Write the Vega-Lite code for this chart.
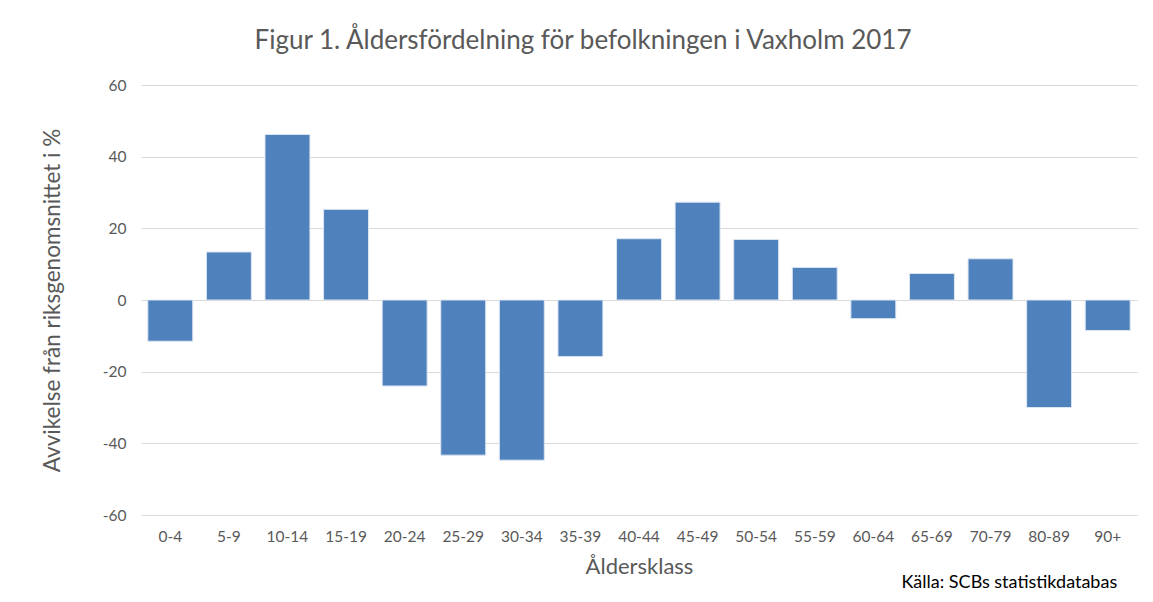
{
  "$schema": "https://vega.github.io/schema/vega-lite/v6.json",
  "autosize": "none",
  "width": 996,
  "height": 430,
  "padding": {"left": 141, "top": 85, "right": 16, "bottom": 87},
  "background": "white",
  "title": {
    "text": "Figur 1. Åldersfördelning för befolkningen i Vaxholm 2017",
    "font": "Lato",
    "fontSize": 26,
    "fontWeight": "normal",
    "color": "#595959",
    "anchor": "middle",
    "dx": -56,
    "offset": 24
  },
  "config": {
    "view": {"stroke": null},
    "font": "Lato"
  },
  "layer": [
    {
      "data": {
        "values": [
          {"klass": "0-4", "avvikelse": -11.5},
          {"klass": "5-9", "avvikelse": 13.4},
          {"klass": "10-14", "avvikelse": 46.2},
          {"klass": "15-19", "avvikelse": 25.3},
          {"klass": "20-24", "avvikelse": -24.0},
          {"klass": "25-29", "avvikelse": -43.3},
          {"klass": "30-34", "avvikelse": -44.7},
          {"klass": "35-39", "avvikelse": -15.8},
          {"klass": "40-44", "avvikelse": 17.1},
          {"klass": "45-49", "avvikelse": 27.3},
          {"klass": "50-54", "avvikelse": 16.9},
          {"klass": "55-59", "avvikelse": 9.1},
          {"klass": "60-64", "avvikelse": -5.2},
          {"klass": "65-69", "avvikelse": 7.4},
          {"klass": "70-79", "avvikelse": 11.5},
          {"klass": "80-89", "avvikelse": -30.0},
          {"klass": "90+", "avvikelse": -8.5}
        ]
      },
      "mark": {"type": "bar", "color": "#4f81bd", "stroke": "#dce6f2", "strokeWidth": 1},
      "encoding": {
        "x": {
          "field": "klass",
          "type": "nominal",
          "sort": null,
          "scale": {"paddingInner": 0.233, "paddingOuter": 0.1165},
          "axis": {
            "title": "Åldersklass",
            "titleFont": "Lato",
            "titleFontSize": 22,
            "titleFontWeight": "normal",
            "titleColor": "#595959",
            "titlePadding": 12,
            "labelFont": "Lato",
            "labelFontSize": 15.5,
            "labelColor": "#595959",
            "labelAngle": 0,
            "labelPadding": 14,
            "ticks": false,
            "domain": false
          }
        },
        "y": {
          "field": "avvikelse",
          "type": "quantitative",
          "scale": {"domain": [-60, 60], "nice": false},
          "axis": {
            "title": "Avvikelse från riksgenomsnittet i %",
            "titleFont": "Lato",
            "titleFontSize": 22.5,
            "titleFontWeight": "normal",
            "titleColor": "#595959",
            "titlePadding": 38,
            "values": [-60, -40, -20, 0, 20, 40, 60],
            "labelExpr": "replace(datum.label, '−', '-')",
            "labelFont": "Lato",
            "labelFontSize": 15.5,
            "labelColor": "#595959",
            "labelPadding": 15,
            "ticks": false,
            "domain": false,
            "gridColor": "#d9d9d9",
            "gridWidth": 1
          }
        }
      }
    },
    {
      "data": {"values": [{"note": "Källa: SCBs statistikdatabas"}]},
      "mark": {
        "type": "text",
        "align": "right",
        "baseline": "middle",
        "font": "Lato",
        "fontSize": 18,
        "color": "#000000",
        "dx": -13,
        "dy": 68
      },
      "encoding": {
        "x": {"datum": "90+", "type": "nominal", "bandPosition": 1},
        "y": {"datum": -60, "type": "quantitative"},
        "text": {"field": "note"}
      }
    }
  ]
}
